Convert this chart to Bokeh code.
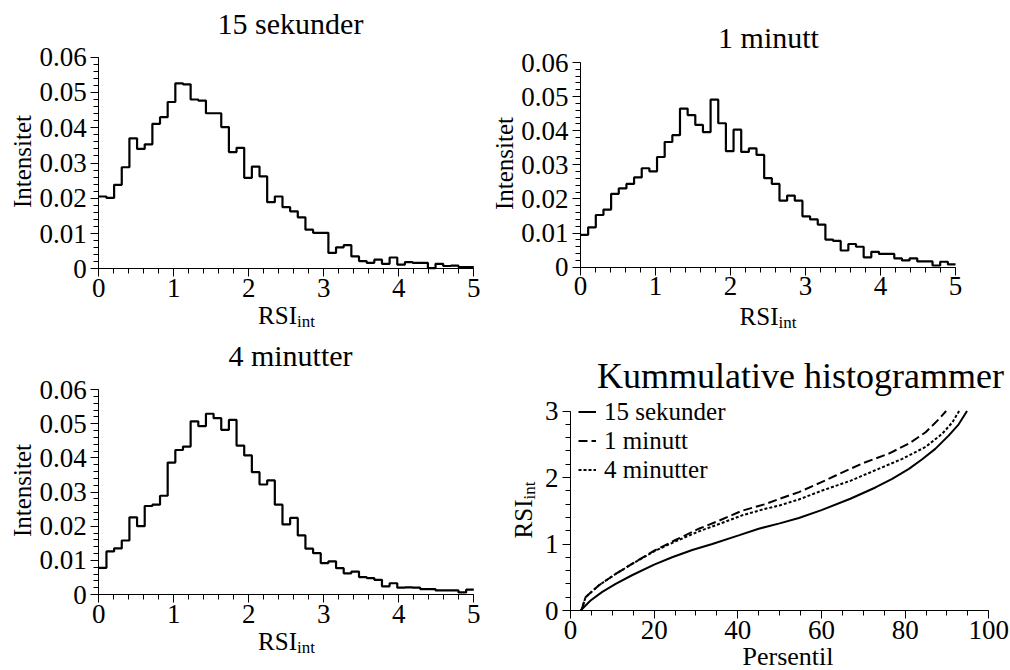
import numpy as np
from bokeh.plotting import figure
from bokeh.layouts import column, row
from bokeh.models import Label, FixedTicker, Range1d, Legend, LegendItem, LinearAxis
from bokeh.embed import file_html
from bokeh.resources import INLINE

FONT = "Liberation Serif"

# ---------------- data ----------------
rsi_min, rsi_max, n_bins = 0.0, 5.0, 49

intens_15s = [0.0205, 0.0201, 0.0238, 0.0288, 0.0370, 0.0340, 0.0353, 0.0411, 0.0430, 0.0473,
              0.0526, 0.0523, 0.0480, 0.0477, 0.0441, 0.0441, 0.0402, 0.0331, 0.0343, 0.0258,
              0.0290, 0.0262, 0.0189, 0.0205, 0.0175, 0.0163, 0.0146, 0.0111, 0.0102, 0.0102,
              0.0045, 0.0061, 0.0067, 0.0035, 0.0022, 0.0017, 0.0026, 0.0014, 0.0032, 0.0012,
              0.0019, 0.0017, 0.0017, 0.0002, 0.0014, 0.0008, 0.0009, 0.0005, 0.0005]

intens_1m = [0.0095, 0.0117, 0.0153, 0.0169, 0.0215, 0.0231, 0.0244, 0.0263, 0.0290, 0.0281,
             0.0323, 0.0367, 0.0387, 0.0465, 0.0446, 0.0417, 0.0396, 0.0491, 0.0422, 0.0340,
             0.0403, 0.0338, 0.0348, 0.0329, 0.0261, 0.0244, 0.0195, 0.0210, 0.0195, 0.0149,
             0.0140, 0.0125, 0.0081, 0.0077, 0.0049, 0.0068, 0.0060, 0.0029, 0.0045, 0.0039,
             0.0039, 0.0026, 0.0020, 0.0026, 0.0017, 0.0017, 0.0005, 0.0016, 0.0008]

intens_4m = [0.0078, 0.0126, 0.0135, 0.0158, 0.0226, 0.0200, 0.0259, 0.0263, 0.0289, 0.0386,
             0.0423, 0.0433, 0.0507, 0.0493, 0.0529, 0.0516, 0.0482, 0.0511, 0.0436, 0.0407,
             0.0358, 0.0322, 0.0334, 0.0263, 0.0205, 0.0224, 0.0173, 0.0134, 0.0121, 0.0092,
             0.0097, 0.0077, 0.0062, 0.0067, 0.0051, 0.0048, 0.0043, 0.0024, 0.0033, 0.0020,
             0.0021, 0.0020, 0.0016, 0.0016, 0.0012, 0.0012, 0.0012, 0.0006, 0.0014]

pct_15s = [2.4, 4.8, 7.6, 10.8, 14.7, 20.0, 24.3, 29.1, 33.9, 40.2, 45.0, 50.0, 54.6, 60.0,
           66.9, 72.9, 76.9, 80.9, 84.0, 87.2, 90.4, 92.8, 94.8]
rsi_15s = [0.0, 0.15, 0.28, 0.40, 0.53, 0.69, 0.80, 0.91, 1.00, 1.13, 1.23, 1.31, 1.39, 1.51,
           1.68, 1.85, 1.98, 2.13, 2.27, 2.43, 2.63, 2.80, 3.0]

pct_1m = [2.6, 3.6, 6.8, 10.8, 14.7, 20.0, 25.1, 30.7, 35.5, 41.0, 46.6, 50.0, 54.6, 60.0,
          63.4, 69.7, 76.1, 80.9, 84.9, 88.1, 89.8]
rsi_1m = [0.0, 0.20, 0.38, 0.55, 0.70, 0.90, 1.06, 1.23, 1.35, 1.50, 1.60, 1.68, 1.78, 1.93,
          2.03, 2.21, 2.36, 2.51, 2.68, 2.88, 3.0]

pct_4m = [2.6, 3.6, 6.8, 10.8, 14.7, 20.0, 25.1, 30.7, 35.5, 41.0, 46.6, 50.0, 54.6, 60.0,
          66.9, 72.9, 79.3, 84.9, 88.9, 91.3, 92.9]
rsi_4m = [0.0, 0.20, 0.38, 0.55, 0.70, 0.89, 1.04, 1.19, 1.30, 1.43, 1.53, 1.58, 1.67, 1.80,
          1.95, 2.11, 2.28, 2.46, 2.66, 2.83, 3.0]

titles = ["15 sekunder", "1 minutt", "4 minutter", "Kummulative histogrammer"]
legend_labels = ["15 sekunder", "1 minutt", "4 minutter"]
y_ticks = [0, 0.01, 0.02, 0.03, 0.04, 0.05, 0.06]
y_tick_labels = ["0", "0.01", "0.02", "0.03", "0.04", "0.05", "0.06"]
x_ticks = [0, 1, 2, 3, 4, 5]
cum_x_ticks = [0, 20, 40, 60, 80, 100]
cum_y_ticks = [0, 1, 2, 3]

WL, WR = 485, 525          # widths of left / right column figures
H1, H2 = 336, 334          # heights of top / bottom rows
BASE_SHIFT = 0.4           # empirical correction of the rendered text baseline (fraction of size)


def make_fig(w, h, L, R, T, B, x0, x1, y0, y1):
    """Figure whose frame is the full canvas; data box [x0,x1]x[y0,y1] lands at px L..R, T..B."""
    sx = (R - L) / (x1 - x0)
    sy = (B - T) / (y1 - y0)
    xr = Range1d(x0 - L / sx, x1 + (w - R) / sx)
    yr = Range1d(y0 - (h - B) / sy, y1 + T / sy)
    p = figure(width=w, height=h, x_range=xr, y_range=yr,
               min_border_left=0, min_border_right=0, min_border_top=0, min_border_bottom=0,
               x_axis_location=None, y_axis_location=None,
               output_backend="svg", toolbar_location=None, tools="")
    p.xgrid.visible = False
    p.ygrid.visible = False
    p.outline_line_color = None
    p.background_fill_color = "white"
    p.border_fill_color = "white"
    return p


def add_axes(p, x0, x1, y0, y1, xt, xminor, yt, yminor, ylabels=None):
    xa = LinearAxis(fixed_location=y0, bounds=(x0, x1),
                    ticker=FixedTicker(ticks=xt, minor_ticks=xminor))
    ya = LinearAxis(fixed_location=x0, bounds=(y0, y1),
                    ticker=FixedTicker(ticks=yt, minor_ticks=yminor))
    if ylabels is not None:
        ya.major_label_overrides = {t: l for t, l in zip(yt, ylabels)}
    for ax in (xa, ya):
        ax.axis_line_color = "black"
        ax.axis_line_width = 1
        ax.major_tick_line_color = "black"
        ax.minor_tick_line_color = "black"
        ax.major_tick_out = 8
        ax.major_tick_in = 0
        ax.minor_tick_out = 5
        ax.minor_tick_in = 0
        ax.major_label_text_font = FONT
        ax.major_label_text_font_size = "27px"
        ax.major_label_text_color = "black"
    xa.major_label_standoff = 2
    ya.major_label_standoff = 4
    p.add_layout(xa, "below")
    p.add_layout(ya, "left")


def add_text(p, ox, oy, h, ax, ay, text, size, align="center", rotated=False):
    """Place text with its baseline at absolute page position (ax, ay); figure origin (ox, oy)."""
    if rotated:
        ax = ax - BASE_SHIFT * size
        angle = np.pi / 2
    else:
        ay = ay - BASE_SHIFT * size
        angle = 0.0
    p.add_layout(Label(x=ax - ox, y=(oy + h) - ay, x_units="screen", y_units="screen",
                       text=text, text_font=FONT, text_font_size=f"{size}px",
                       text_align=align, text_baseline="alphabetic", angle=angle,
                       text_color="black"))


def hist_panel(vals, w, h, L, R, T, B):
    p = make_fig(w, h, L, R, T, B, rsi_min, rsi_max, 0, 0.06)
    edges = np.linspace(rsi_min, rsi_max, n_bins + 1)
    ys = list(vals) + [vals[-1]]
    p.step(list(edges), ys, mode="after", line_color="black", line_width=2.2)
    add_axes(p, rsi_min, rsi_max, 0, 0.06, x_ticks, list(np.arange(0, 5.01, 0.2)),
             y_ticks, list(np.arange(0, 0.0601, 0.002)), y_tick_labels)
    return p


# panel 1 : origin (0, 0)
o1 = (0, 0)
p1 = hist_panel(intens_15s, WL, H1, 98.3, 473.3, 56.7, 268.3)
add_text(p1, *o1, H1, 290, 35, titles[0], 30)
add_text(p1, *o1, H1, 296.5, 325, "RSI", 25, align="right")
add_text(p1, *o1, H1, 296.5, 328, "int", 17, align="left")
add_text(p1, *o1, H1, 31.5, 161, "Intensitet", 25, rotated=True)

# panel 2 : origin (WL, 0)
o2 = (WL, 0)
p2 = hist_panel(intens_1m, WR, H1, 580 - WL, 955 - WL, 62, 266.7)
add_text(p2, *o2, H1, 768, 49, titles[1], 30)
add_text(p2, *o2, H1, 778, 326, "RSI", 25, align="right")
add_text(p2, *o2, H1, 778, 329, "int", 17, align="left")
add_text(p2, *o2, H1, 513.5, 163, "Intensitet", 25, rotated=True)

# panel 3 : origin (0, H1)
o3 = (0, H1)
p3 = hist_panel(intens_4m, WL, H2, 98.3, 473.3, 389 - H1, 594 - H1)
add_text(p3, *o3, H2, 290, 367, titles[2], 30)
add_text(p3, *o3, H2, 296.5, 651, "RSI", 25, align="right")
add_text(p3, *o3, H2, 296.5, 654, "int", 17, align="left")
add_text(p3, *o3, H2, 31.5, 490, "Intensitet", 25, rotated=True)

# panel 4 : origin (WL, H1)
o4 = (WL, H1)
p4 = make_fig(WR, H2, 570 - WL, 988.3 - WL, 410.5 - H1, 610 - H1, 0, 100, 0, 3)
r1 = p4.line(pct_15s, rsi_15s, line_color="black", line_width=2)
r2 = p4.line(pct_1m, rsi_1m, line_color="black", line_width=2, line_dash="9 4")
r3 = p4.line(pct_4m, rsi_4m, line_color="black", line_width=2, line_dash="3 2")
add_axes(p4, 0, 100, 0, 3, cum_x_ticks, list(np.arange(0, 100.1, 5)),
         cum_y_ticks, list(np.arange(0, 3.01, 0.2)))
add_text(p4, *o4, H2, 800, 389.5, titles[3], 36)
add_text(p4, *o4, H2, 787.5, 666, "Persentil", 26)
add_text(p4, *o4, H2, 533, 499, "RSI", 25, align="right", rotated=True)
add_text(p4, *o4, H2, 536, 499, "int", 17, align="left", rotated=True)

# legend: bottom-left corner relative to the figure's bottom-left (page x 578, page y 484)
legend = Legend(items=[LegendItem(label=legend_labels[0], renderers=[r1]),
                       LegendItem(label=legend_labels[1], renderers=[r2]),
                       LegendItem(label=legend_labels[2], renderers=[r3])],
                location=(578 - WL, (H1 + H2) - 484),
                label_text_font=FONT, label_text_font_size="25px", label_text_color="black",
                glyph_width=18, glyph_height=29, label_height=29, label_standoff=8,
                spacing=0, padding=0, margin=0, border_line_color=None,
                background_fill_alpha=0)
p4.add_layout(legend)

layout = column(row(p1, p2, spacing=0), row(p3, p4, spacing=0), spacing=0)
open("out.html", "w").write(file_html(layout, INLINE))
